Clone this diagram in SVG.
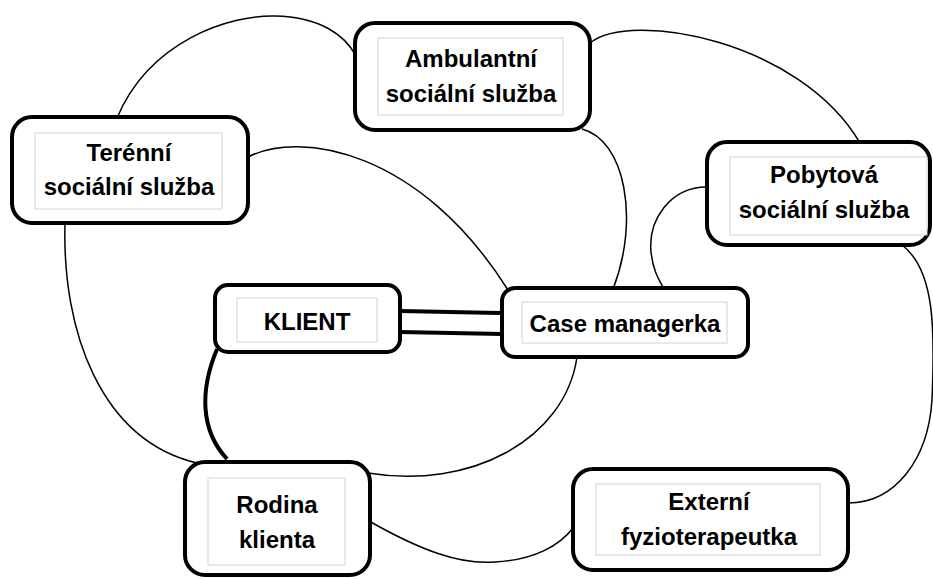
<svg xmlns="http://www.w3.org/2000/svg" width="933" height="579" viewBox="0 0 933 579">
<style>
.box{fill:#fff;stroke:#000;stroke-width:4}
.inner{fill:#fff;stroke:#d4d4d4;stroke-width:1}
.lbl{font-family:"Liberation Sans",Arial,sans-serif;font-weight:bold;font-size:24px;fill:#000;text-anchor:middle}
.thin{fill:none;stroke:#000;stroke-width:1.5}
.thick{fill:none;stroke:#000;stroke-width:4}
</style>
<rect width="933" height="579" fill="#fff"/>
<g id="connectors">
<path class="thin" d="M117,118 C150,40 230,15 275,16 C320,17 345,35 356,56"/>
<path class="thin" d="M590,43 C630,10 800,40 860,143"/>
<path class="thin" d="M582,129 C625,140 640,220 613,289"/>
<path class="thin" d="M707,187 C670,187 648,220 651,252 C653,270 658,278 664,289"/>
<path class="thin" d="M902,245 C935,270 935,330 932,400 C928,460 895,503 848,503"/>
<path class="thin" d="M248,157 C300,130 420,150 508,290"/>
<path class="thin" d="M65,224 C62,330 100,440 197,463"/>
<path class="thin" d="M577,357 C565,440 470,490 368,473"/>
<path class="thin" d="M369,521 C420,550 460,565 495,562 C535,560 560,545 573,528"/>
<path class="thick" d="M217,349 C200,390 200,430 227,459"/>
<line class="thick" x1="400" y1="311" x2="500" y2="313"/>
<line class="thick" x1="400" y1="332" x2="502" y2="334"/>
</g>
<g id="terenni">
<rect class="box" x="12" y="117" width="236" height="106" rx="20"/>
<rect class="inner" x="35" y="133" width="187" height="76"/>
<text class="lbl" x="129" y="161">Terénní</text>
<text class="lbl" x="129" y="195">sociální služba</text>
</g>
<g id="ambulantni">
<rect class="box" x="355" y="23" width="235" height="107" rx="20"/>
<rect class="inner" x="378" y="38" width="185" height="77"/>
<text class="lbl" x="471" y="67">Ambulantní</text>
<text class="lbl" x="471" y="102">sociální služba</text>
</g>
<g id="pobytova">
<rect class="box" x="707" y="142" width="223" height="103" rx="20"/>
<rect class="inner" x="730" y="157" width="197" height="78"/>
<text class="lbl" x="824" y="183">Pobytová</text>
<text class="lbl" x="824" y="218">sociální služba</text>
</g>
<g id="klient">
<rect class="box" x="215" y="285" width="185" height="67" rx="13"/>
<rect class="inner" x="237" y="298" width="140" height="44"/>
<text class="lbl" x="307" y="330">KLIENT</text>
</g>
<g id="case">
<rect class="box" x="502" y="288" width="246" height="69" rx="13"/>
<rect class="inner" x="522" y="302" width="205" height="41"/>
<text class="lbl" x="625" y="332">Case managerka</text>
</g>
<g id="rodina">
<rect class="box" x="185" y="462" width="185" height="113" rx="20"/>
<rect class="inner" x="208" y="478" width="137" height="87"/>
<text class="lbl" x="277" y="513">Rodina</text>
<text class="lbl" x="277" y="548">klienta</text>
</g>
<g id="externi">
<rect class="box" x="573" y="469" width="275" height="101" rx="20"/>
<rect class="inner" x="596" y="484" width="224" height="71"/>
<text class="lbl" x="709" y="510">Externí</text>
<text class="lbl" x="709" y="545">fyzioterapeutka</text>
</g>
</svg>
